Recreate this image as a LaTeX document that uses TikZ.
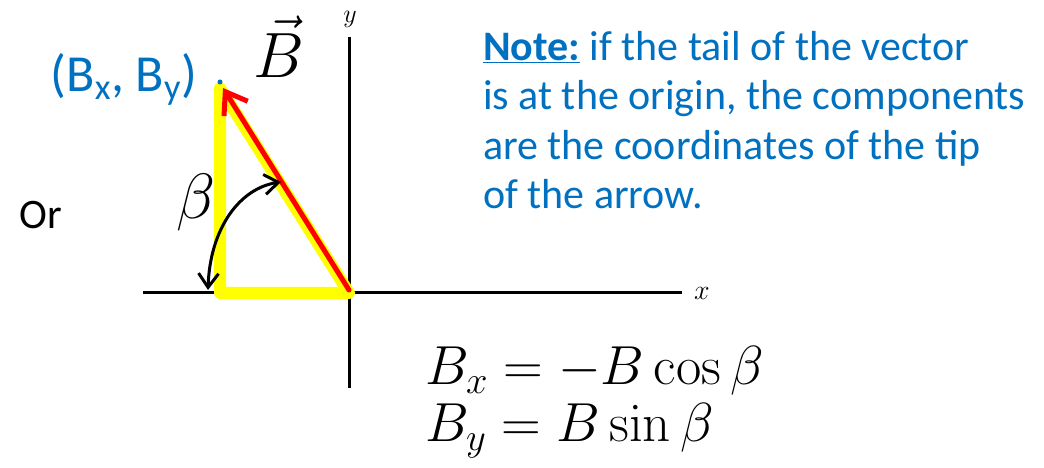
\RequirePackage{fix-cm}
\documentclass[tikz,border=0pt]{standalone}
\usepackage[no-math]{fontspec}
\setmainfont{Carlito}
\usetikzlibrary{arrows.meta}
\definecolor{noteblue}{RGB}{0,112,192}
\definecolor{hiyellow}{RGB}{255,255,0}

\begin{document}
\begin{tikzpicture}[x=1pt, y=1pt,
    axis/.style={line width=3pt},
    bluetext/.style={text=noteblue, inner sep=0pt},
    plain/.style={inner sep=0pt}]
    \useasboundingbox (0,0) rectangle (1044,468);

    % axes
    \coordinate (O) at (349,175);
    \coordinate (xstart) at (143,175);
    \coordinate (xend) at (682,175);
    \coordinate (ystart) at (349,80);
    \coordinate (yend) at (349,431);
    \draw[axis] (xstart) -- (xend);
    \draw[axis] (ystart) -- (yend);
    \node[plain, right] (xlabel) at (694,175) {\fontsize{28}{28}\selectfont $x$};
    \node[plain] (ylabel) at (350,449) {\fontsize{26}{26}\selectfont $y$};

    % triangle and vector
    \coordinate (T) at (220,380);
    \coordinate (C) at (220,175);
    \coordinate (tail) at (349,178);
    \coordinate (tip) at (223,380);
    \coordinate (dot) at (220,386);
    \draw[hiyellow, line width=12pt, line join=round, line cap=round] (T) -- (C) -- (O) -- cycle;
    \draw[red, line width=5pt, line cap=round, -{Straight Barb[length=20pt, width=28pt]}] (tail) -- (tip);
    \fill[noteblue] (dot) circle (2.5pt);

    % angle
    \coordinate (arcstart) at (208,178);
    \coordinate (arcend) at (281,286);
    \draw[line width=3pt, {Straight Barb[length=14pt, width=20pt]}-{Straight Barb[length=14pt, width=20pt]}]
        (arcstart) .. controls (210,240) and (240,280) .. (arcend);

    % labels
    \node[bluetext, anchor=base east] (tiplabel) at (197,376) {\fontsize{52}{52}\selectfont (B\textsubscript{x}, B\textsubscript{y})};
    \node[plain, anchor=base] (veclabel) at (279,390) {\fontsize{64}{64}\selectfont $\vec{B}$};
    \node[plain] (betalabel) at (196,265) {\fontsize{64}{64}\selectfont $\beta$};
    \node[plain] (orlabel) at (41,253) {\fontsize{42}{42}\selectfont Or};

    \node[bluetext, anchor=north west, align=left, font={\fontsize{42}{49.5}\selectfont}] (note) at (483,437)
        {\underline{\textbf{Note:}} if the tail of the vector\\
         is at the origin, the components\\
         are the coordinates of the tip\\
         of the arrow.};

    \node[plain, anchor=base west] (eqx) at (425,83) {\fontsize{55}{55}\selectfont $B_x = -B\cos\beta$};
    \node[plain, anchor=base west] (eqy) at (425,26) {\fontsize{55}{55}\selectfont $B_y = B\sin\beta$};
\end{tikzpicture}
\end{document}
